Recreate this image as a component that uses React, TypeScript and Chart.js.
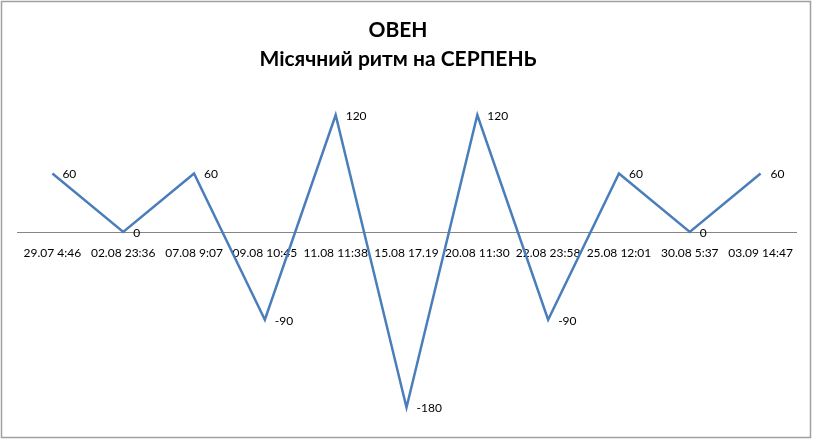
import React, { useEffect, useRef } from "react";
import { Chart, registerables } from "chart.js";

Chart.register(...registerables);

const categories = [
  "29.07 4:46",
  "02.08 23:36",
  "07.08 9:07",
  "09.08 10:45",
  "11.08 11:38",
  "15.08 17.19",
  "20.08 11:30",
  "22.08 23:58",
  "25.08 12:01",
  "30.08 5:37",
  "03.09 14:47",
];

const values = [60, 0, 60, -90, 120, -180, 120, -90, 60, 0, 60];

const titleLines = ["ОВЕН", "Місячний ритм на СЕРПЕНЬ"];

const FONT = "Lato, 'Noto Sans', sans-serif";

const frame = {
  id: "frame",
  afterDraw(chart: any) {
    const ctx = chart.ctx;
    ctx.save();
    ctx.strokeStyle = "#a0a0a0";
    ctx.lineWidth = 1.5;
    ctx.strokeRect(1.5, 1.5, 809, 436);
    ctx.restore();
  },
};

const titleDraw = {
  id: "titleDraw",
  afterDraw(chart: any) {
    const ctx = chart.ctx;
    ctx.save();
    ctx.font = `bold 21px ${FONT}`;
    ctx.fillStyle = "#000";
    ctx.textAlign = "center";
    ctx.textBaseline = "middle";
    titleLines.forEach((t, i) => {
      ctx.fillText(t, 398, 30 + i * 29);
    });
    ctx.restore();
  },
};

const valueLabels = {
  id: "valueLabels",
  afterDatasetsDraw(chart: any) {
    const ctx = chart.ctx;
    const meta = chart.getDatasetMeta(0);
    const data = chart.data.datasets[0].data;
    ctx.save();
    ctx.font = `12px ${FONT}`;
    ctx.fillStyle = "#000";
    ctx.textAlign = "left";
    ctx.textBaseline = "middle";
    meta.data.forEach((pt: any, i: number) => {
      ctx.fillText(String(data[i]), pt.x + 10, pt.y + 1);
    });
    ctx.restore();
  },
};

export default function App() {
  const ref = useRef<HTMLCanvasElement | null>(null);
  useEffect(() => {
    if (!ref.current) return;
    const chart = new Chart(ref.current, {
      type: "line",
      data: {
        labels: categories,
        datasets: [
          {
            data: values,
            borderColor: "#4A7EBB",
            borderWidth: 2.5,
            pointRadius: 0,
            pointHoverRadius: 0,
            tension: 0,
            fill: false,
          },
        ],
      },
      options: {
        animation: false,
        responsive: true,
        maintainAspectRatio: false,
        layout: { padding: { left: 17, right: 38, top: 85.75, bottom: 18 } },
        plugins: {
          legend: { display: false },
          tooltip: { enabled: false },
          title: { display: false },
        },
        scales: {
          x: {
            type: "category",
            offset: true,
            position: { y: 0 },
            grid: { display: false, drawTicks: false },
            border: { display: true, color: "#868686", width: 1 },
            ticks: {
              color: "#000",
              font: { family: FONT, size: 12 },
              autoSkip: false,
              maxRotation: 0,
              minRotation: 0,
              padding: 14,
            },
          },
          y: {
            display: false,
            min: -200,
            max: 150,
          },
        },
      },
      plugins: [frame, titleDraw, valueLabels],
    });
    return () => chart.destroy();
  }, []);
  return (
    <div style={{ position: "fixed", left: 0, top: 0, width: 834, height: 445, background: "#fff" }}>
      <canvas ref={ref} />
    </div>
  );
}
